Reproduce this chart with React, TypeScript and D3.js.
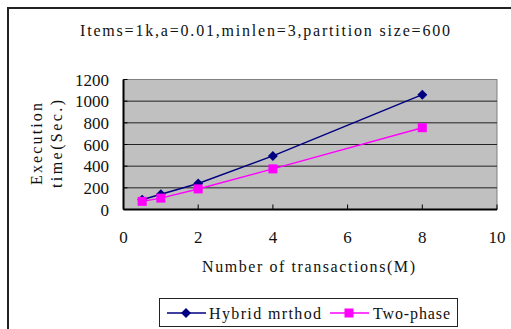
import React from "react";
import * as d3 from "d3";

const xValues = [0.5, 1, 2, 4, 8];
const hybrid = [90, 140, 240, 495, 1060];
const twoPhase = [75, 105, 190, 375, 755];
const yTicks = [0, 200, 400, 600, 800, 1000, 1200];
const xTicks = [0, 2, 4, 6, 8, 10];
const seriesNames = ["Hybrid mrthod", "Two-phase"];
const titleText = "Items=1k,a=0.01,minlen=3,partition size=600";
const xTitle = "Number of transactions(M)";
const yTitle1 = "Execution";
const yTitle2 = "time(Sec.)";

const FONT = "'Liberation Serif'";

export default function App() {
  const W = 511, H = 329;
  const x = d3.scaleLinear().domain([0, 10]).range([123.5, 497]);
  const y = d3.scaleLinear().domain([0, 1200]).range([209.5, 79.5]);
  const line = d3
    .line<[number, number]>()
    .x((d) => x(d[0]))
    .y((d) => y(d[1]));
  const hPts: [number, number][] = xValues.map((v, i) => [v, hybrid[i]]);
  const tPts: [number, number][] = xValues.map((v, i) => [v, twoPhase[i]]);
  const navy = "#000080";
  const mag = "#FF00FF";
  const diamond = (cx: number, cy: number, r: number) =>
    `M${cx},${cy - r}L${cx + r},${cy}L${cx},${cy + r}L${cx - r},${cy}Z`;
  const ts = { fontFamily: FONT } as React.CSSProperties;

  return (
    <svg
      width={W}
      height={H}
      style={{ position: "absolute", left: 0, top: 0, background: "#fff" }}
    >
      <path d={`M8,${H + 5}V8H${W + 5}`} fill="none" stroke="#222" strokeWidth={2} />
      <text x={265} y={36} textAnchor="middle" style={ts} fontSize={16}
        textLength={370} lengthAdjust="spacing" fill="#111">
        {titleText}
      </text>

      <rect x={x(0)} y={y(1200)} width={x(10) - x(0)} height={y(0) - y(1200)}
        fill="#C0C0C0" stroke="#808080" strokeWidth={1} />
      {yTicks.slice(1, -1).map((t) => (
        <line key={t} x1={x(0)} x2={x(10)} y1={y(t)} y2={y(t)} stroke="#222" strokeWidth={1} />
      ))}
      <line x1={x(0)} x2={x(0)} y1={y(1200)} y2={y(0)} stroke="#000" strokeWidth={2} />
      <line x1={x(0)} x2={x(10)} y1={y(0)} y2={y(0)} stroke="#000" strokeWidth={2} />
      {xTicks.slice(1).map((t) => (
        <line key={t} x1={x(t)} x2={x(t)} y1={y(0)} y2={y(0) - 5} stroke="#000" strokeWidth={1} />
      ))}
      {yTicks.map((t) => (
        <line key={t} x1={x(0)} x2={x(0) + 4} y1={y(t)} y2={y(t)} stroke="#000" strokeWidth={1} />
      ))}

      {yTicks.map((t) => (
        <text key={t} x={109} y={y(t) + 6} textAnchor="end" style={ts} fontSize={17} fill="#111">
          {t}
        </text>
      ))}
      {xTicks.map((t) => (
        <text key={t} x={x(t)} y={243} textAnchor="middle" style={ts} fontSize={17} fill="#111">
          {t}
        </text>
      ))}
      <text x={308.5} y={272} textAnchor="middle" style={ts} fontSize={16}
        textLength={213} lengthAdjust="spacing" fill="#111">
        {xTitle}
      </text>
      <text transform={`translate(42,144) rotate(-90)`} textAnchor="middle" style={ts}
        fontSize={16} textLength={82} lengthAdjust="spacing" fill="#111">
        {yTitle1}
      </text>
      <text transform={`translate(62,144) rotate(-90)`} textAnchor="middle" style={ts}
        fontSize={16} textLength={88} lengthAdjust="spacing" fill="#111">
        {yTitle2}
      </text>

      <path d={line(hPts) || ""} fill="none" stroke={navy} strokeWidth={1.5} />
      <path d={line(tPts) || ""} fill="none" stroke={mag} strokeWidth={1.5} />
      {hPts.map((p, i) => (
        <path key={i} d={diamond(x(p[0]), y(p[1]), 5)} fill={navy} />
      ))}
      {tPts.map((p, i) => (
        <rect key={i} x={x(p[0]) - 4.5} y={y(p[1]) - 4.5} width={9} height={9} fill={mag} />
      ))}

      <rect x={159.5} y={298.5} width={298} height={28} fill="#fff" stroke="#222" strokeWidth={1} />
      <line x1={167} x2={206} y1={313} y2={313} stroke={navy} strokeWidth={1.5} />
      <path d={diamond(186, 313, 5)} fill={navy} />
      <text x={209} y={319} style={ts} fontSize={16} textLength={112}
        lengthAdjust="spacing" fill="#111">
        {seriesNames[0]}
      </text>
      <line x1={330} x2={369} y1={313} y2={313} stroke={mag} strokeWidth={1.5} />
      <rect x={344.5} y={308.5} width={9} height={9} fill={mag} />
      <text x={373} y={319} style={ts} fontSize={16} textLength={77}
        lengthAdjust="spacing" fill="#111">
        {seriesNames[1]}
      </text>
    </svg>
  );
}
